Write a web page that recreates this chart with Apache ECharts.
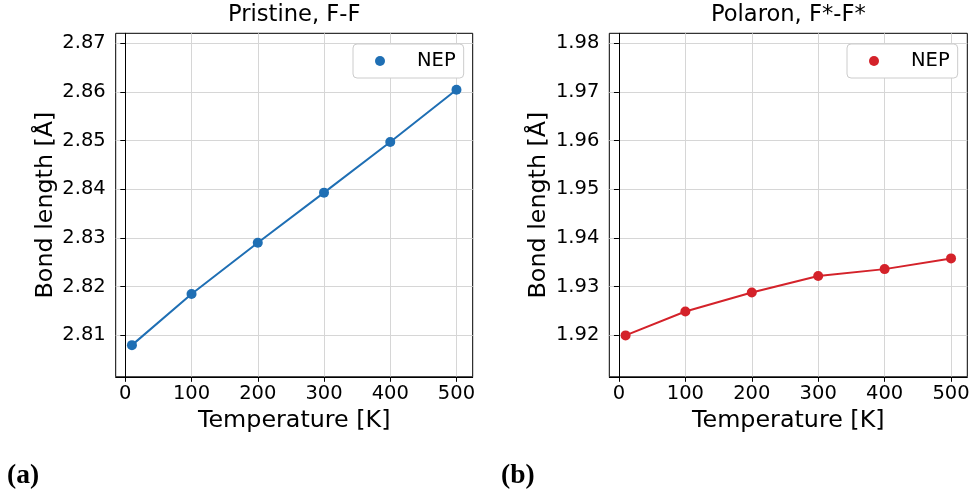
<!DOCTYPE html>
<html>
<head>
<meta charset="utf-8">
<script src="https://cdn.jsdelivr.net/npm/echarts@6/dist/echarts.min.js"></script>
<style>html,body{margin:0;padding:0;background:#fff}#c{width:970px;height:494px}</style>
</head>
<body>
<div id="c"></div>
<script>
const temps = [10, 100, 200, 300, 400, 500];
const pristineFF = [2.8080, 2.8185, 2.8290, 2.8393, 2.8497, 2.8604];
const polaronFF = [1.9200, 1.9249, 1.9288, 1.9322, 1.9336, 1.9358];
const xTicks = [0, 100, 200, 300, 400, 500];
const yTicksA = [2.81, 2.82, 2.83, 2.84, 2.85, 2.86, 2.87];
const yTicksB = [1.92, 1.93, 1.94, 1.95, 1.96, 1.97, 1.98];
const titles = ['Pristine, F-F', 'Polaron, F*-F*'];
const panelLabels = ['(a)', '(b)'];

const FONT = 'DejaVu Sans';
const blue = '#1f6fb4', red = '#d4222a';
const grids = [
  {left: 115.7, top: 33.3, width: 357, height: 343.5},
  {left: 609.3, top: 33.3, width: 358, height: 343.5}
];
function xAxis(i) {
  return {
    type: 'value', gridIndex: i, min: -14.5, max: 524.5,
    name: 'Temperature [K]', nameLocation: 'middle', nameGap: 30,
    nameTextStyle: {fontFamily: FONT, fontSize: 23.8, color: '#000'},
    axisLine: {show: true, lineStyle: {color: '#000', width: 1}},
    axisTick: {show: true, length: 5, inside: false, customValues: xTicks, lineStyle: {color: '#000'}},
    axisLabel: {customValues: xTicks, fontFamily: FONT, fontSize: 19.5, color: '#000', margin: 7},
    splitLine: {show: true, lineStyle: {color: '#d6d6d6', width: 1}}
  };
}
function yAxis(i, min, max, ticks) {
  return {
    type: 'value', gridIndex: i, min: min, max: max,
    name: 'Bond length [Å]', nameLocation: 'middle', nameGap: 58,
    nameTextStyle: {fontFamily: FONT, fontSize: 23.8, color: '#000'},
    axisLine: {show: true, lineStyle: {color: '#000', width: 1}},
    axisTick: {show: true, length: 5, inside: false, customValues: ticks, lineStyle: {color: '#000'}},
    axisLabel: {customValues: ticks, fontFamily: FONT, fontSize: 19.5, color: '#000', margin: 10,
      formatter: v => v.toFixed(2)},
    splitLine: {show: true, lineStyle: {color: '#d6d6d6', width: 1}}
  };
}
function legend(i, left, name, color) {
  return {
    left: left, top: 44, orient: 'vertical', data: [{name: name, icon: 'circle', itemStyle: {color: color}}],
    formatter: () => '{s|}NEP',
    itemWidth: 10, itemHeight: 10, padding: [7, 8, 7, 22],
    borderColor: '#cccccc', borderWidth: 1, borderRadius: 4, backgroundColor: '#fff',
    textStyle: {fontFamily: FONT, fontSize: 19.5, color: '#000',
      rich: {s: {width: 27, fontSize: 19.5}}},
    selectedMode: false
  };
}
const option = {
  animation: false,
  backgroundColor: '#fff',
  grid: grids.map(g => Object.assign({show: true, borderColor: '#000', borderWidth: 1, backgroundColor: 'transparent', containLabel: false, outerBoundsMode: 'none'}, g)),
  xAxis: [xAxis(0), xAxis(1)],
  yAxis: [yAxis(0, 2.8015, 2.872, yTicksA), yAxis(1, 1.9115, 1.982, yTicksB)],
  legend: [legend(0, 353, 'NEP_a', blue), legend(1, 847, 'NEP_b', red)],
  series: [
    {name: 'NEP_a', type: 'line', xAxisIndex: 0, yAxisIndex: 0,
     data: temps.map((t, k) => [t, pristineFF[k]]),
     symbol: 'circle', symbolSize: 10, lineStyle: {color: blue, width: 2},
     itemStyle: {color: blue}},
    {name: 'NEP_b', type: 'line', xAxisIndex: 1, yAxisIndex: 1,
     data: temps.map((t, k) => [t, polaronFF[k]]),
     symbol: 'circle', symbolSize: 10, lineStyle: {color: red, width: 2},
     itemStyle: {color: red}}
  ],
  graphic: [
    {type: 'text', x: 294.2, y: 15, style: {text: titles[0], font: '22.6px "DejaVu Sans"', fill: '#000', align: 'center', verticalAlign: 'middle'}},
    {type: 'text', x: 788.3, y: 15, style: {text: titles[1], font: '22.6px "DejaVu Sans"', fill: '#000', align: 'center', verticalAlign: 'middle'}},
    {type: 'text', x: 7, y: 476, style: {text: panelLabels[0], font: 'bold 27.5px "Liberation Serif"', fill: '#000', align: 'left', verticalAlign: 'middle'}},
    {type: 'text', x: 501, y: 476, style: {text: panelLabels[1], font: 'bold 27.5px "Liberation Serif"', fill: '#000', align: 'left', verticalAlign: 'middle'}}
  ]
};
const chart = echarts.init(document.getElementById('c'), null, {renderer: 'canvas'});
chart.setOption(option);
</script>
</body>
</html>
